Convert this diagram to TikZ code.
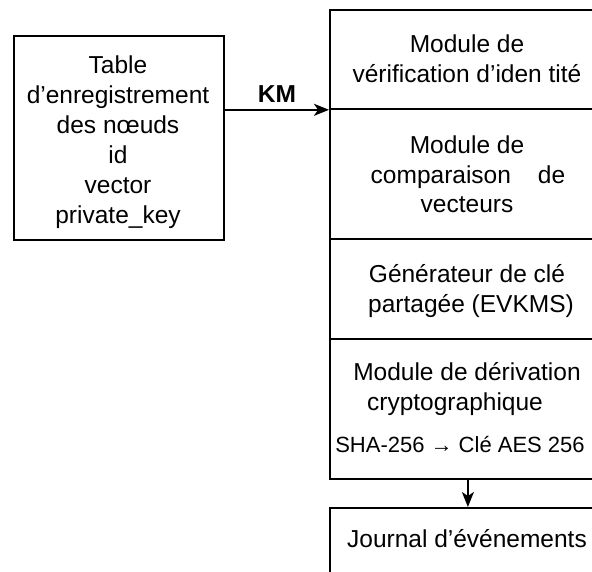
\documentclass[tikz,border=0pt]{standalone}
\usepackage{fontspec}
\setmainfont{Liberation Sans}
\usetikzlibrary{arrows.meta}
\newcommand{\mainfs}{\fontsize{24.5}{30}\selectfont}
\newcommand{\smallfs}{\fontsize{22}{27}\selectfont}
\tikzset{
  box/.style={draw, line width=1.8pt, rectangle, inner sep=0, anchor=north west},
  txt/.style={font=\mainfs, anchor=base, inner sep=0},
  link/.style={line width=1.8pt, -{Stealth[length=15pt,width=12pt,inset=4pt]}}
}
\begin{document}
\begin{tikzpicture}[x=1pt, y=-1pt]
\useasboundingbox (0,0) rectangle (592,571);
\clip (0,0) rectangle (592,571);
\fill[white] (0,0) rectangle (592,571);

% node registry table
\node[box, minimum width=210pt, minimum height=204pt] (table) at (13,35) {};
\node[txt] (t1) at (118,73)  {Table};
\node[txt] (t2) at (118,103) {d’enregistrement};
\node[txt] (t3) at (118,133) {des nœuds};
\node[txt] (t4) at (118,163) {id};
\node[txt] (t5) at (118,193) {vector};
\node[txt] (t6) at (118,223) {private\_key};

% stacked modules on the right
\node[box, minimum width=276pt, minimum height=99pt]  (verif)   at (329,9)   {};
\node[box, minimum width=276pt, minimum height=130pt] (comp)    at (329,108) {};
\node[box, minimum width=276pt, minimum height=100pt] (gen)     at (329,238) {};
\node[box, minimum width=276pt, minimum height=140pt] (deriv)   at (329,338) {};
\node[box, minimum width=276pt, minimum height=100pt] (journal) at (329,507) {};

\node[txt] (v1) at (467,52)  {Module de};
\node[txt] (v2) at (467,82)  {vérification d’iden tité};
\node[txt] (c1) at (467,153) {Module de};
\node[txt] (c2) at (468,183) {comparaison\hspace{27pt}de};
\node[txt] (c3) at (467,212) {vecteurs};
\node[txt] (g1) at (467,282) {Générateur de clé};
\node[txt] (g2) at (471,312) {partagée (EVKMS)};
\node[txt] (d1) at (467,380) {Module de dérivation};
\node[txt] (d2) at (455,410) {cryptographique};
\node[txt, font=\smallfs] (d3) at (460,452) {SHA-256 → Clé AES 256};
\node[txt] (j1) at (467,547) {Journal d’événements};

% connectors
\draw[link] (table.east |- verif.south west) -- (verif.south west)
  node[midway, above=6pt, font=\mainfs\bfseries, inner sep=0] (km) {KM};
\draw[link] (deriv.south) -- (journal.north);
\end{tikzpicture}
\end{document}
